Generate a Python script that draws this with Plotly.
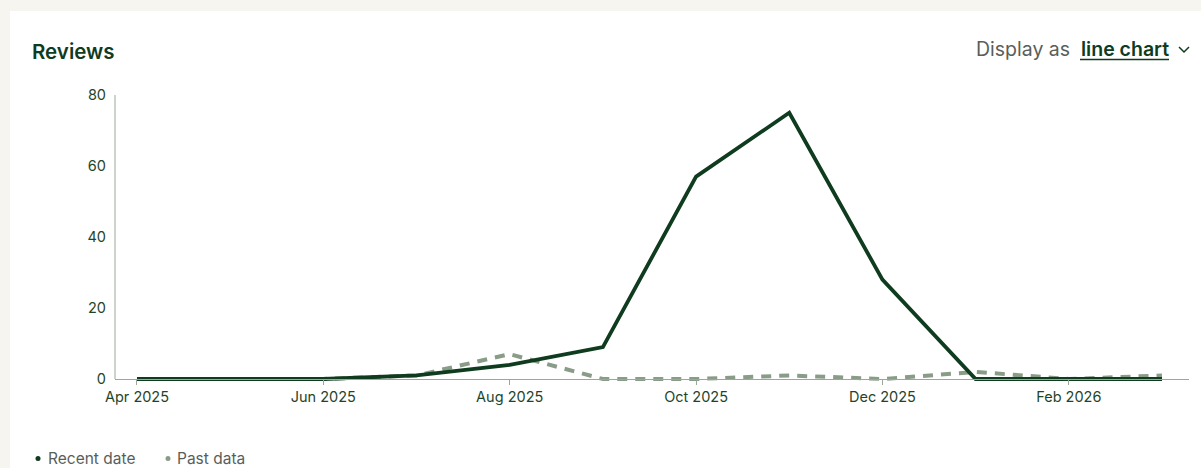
import plotly.graph_objects as go

months = ["Apr 2025", "May 2025", "Jun 2025", "Jul 2025", "Aug 2025", "Sep 2025",
          "Oct 2025", "Nov 2025", "Dec 2025", "Jan 2026", "Feb 2026", "Mar 2026"]
recent_values = [0, 0, 0, 1, 4, 9, 57, 75, 28, 0, 0, 0]
past_values = [0, 0, 0, 1, 7, 0, 0, 1, 0, 2, 0, 1]
tick_labels = ["Apr 2025", "Jun 2025", "Aug 2025", "Oct 2025", "Dec 2025", "Feb 2026"]
y_ticks = [0, 20, 40, 60, 80]

DARK = "#0f3b1f"
PAST = "#899c88"
AXIS = "#9aa89a"
LABEL = "#1f4529"
GREY = "#5a5e5a"
PAGE = "#f7f5f0"
FONT = "Inter"

W, H = 1201, 468
L, R, T, B = 115, 12, 95, 85
pw, ph = W - L - R, H - T - B


def px(x):
    return (x - L) / pw


def py(y):
    return (H - B - y) / ph


y_bottom = -(H - B - 379) / (284 / 80)
zero_pos = (0 - y_bottom) / (80 - y_bottom)

fig = go.Figure()
fig.add_trace(go.Scatter(x=months, y=past_values, mode="lines", name="Past data",
                         line=dict(color=PAST, width=4, dash="10px,8px"),
                         hoverinfo="x+y"))
fig.add_trace(go.Scatter(x=months, y=recent_values, mode="lines", name="Recent date",
                         line=dict(color=DARK, width=3.8), hoverinfo="x+y"))

shapes = [
    dict(type="rect", xref="paper", yref="paper", x0=px(10), x1=px(1230),
         y0=py(490), y1=py(11), fillcolor="white", line=dict(width=0), layer="below"),
    dict(type="line", xref="paper", yref="y", x0=0, x1=0, y0=0, y1=80,
         line=dict(color=AXIS, width=1)),
    dict(type="line", xref="paper", yref="paper", x0=px(1080), x1=px(1169),
         y0=py(59.5), y1=py(59.5), line=dict(color=DARK, width=1.6)),
    dict(type="path", xref="paper", yref="paper",
         path=f"M {px(1179)},{py(47)} L {px(1184)},{py(52)} L {px(1189)},{py(47)}",
         line=dict(color=DARK, width=1.5)),
    dict(type="circle", xref="paper", yref="paper", x0=px(35.5), x1=px(40.5),
         y0=py(461), y1=py(456), fillcolor=DARK, line=dict(width=0)),
    dict(type="circle", xref="paper", yref="paper", x0=px(165.5), x1=px(170.5),
         y0=py(461), y1=py(456), fillcolor=PAST, line=dict(width=0)),
]

annotations = [
    dict(text="Reviews", x=px(30), y=py(51), xref="paper", yref="paper",
         xanchor="left", yanchor="middle", showarrow=False,
         font=dict(family=FONT, size=20.5, color=DARK, weight=600)),
    dict(text="Display as", x=px(1072), y=py(49), xref="paper", yref="paper",
         xanchor="right", yanchor="middle", showarrow=False,
         font=dict(family=FONT, size=19.5, color=GREY)),
    dict(text="line chart", x=px(1079), y=py(49), xref="paper", yref="paper",
         xanchor="left", yanchor="middle", showarrow=False,
         font=dict(family=FONT, size=19.5, color=DARK, weight=600)),
    dict(text="Recent date", x=px(47), y=py(458), xref="paper", yref="paper",
         xanchor="left", yanchor="middle", showarrow=False, borderpad=0,
         font=dict(family=FONT, size=15.5, color=GREY)),
    dict(text="Past data", x=px(176), y=py(458), xref="paper", yref="paper",
         xanchor="left", yanchor="middle", showarrow=False, borderpad=0,
         font=dict(family=FONT, size=15.5, color=GREY)),
]

fig.update_layout(
    width=W, height=H,
    margin=dict(l=L, r=R, t=T, b=B, pad=0),
    paper_bgcolor=PAGE, plot_bgcolor="rgba(0,0,0,0)",
    showlegend=False,
    shapes=shapes, annotations=annotations,
    font=dict(family=FONT, color=LABEL, size=14.5),
    xaxis=dict(type="category", range=[-0.236, 11.29], tickmode="array",
               tickvals=tick_labels, ticktext=tick_labels,
               showgrid=False, zeroline=False, showline=True, linecolor=AXIS, linewidth=1,
               ticks="outside", ticklen=5, tickcolor=AXIS, tickwidth=1,
               anchor="free", position=zero_pos,
               tickfont=dict(family=FONT, size=14.5, color=LABEL)),
    yaxis=dict(range=[y_bottom, 80], tickmode="array", tickvals=y_ticks,
               showgrid=False, zeroline=False, showline=False, ticks="",
               ticklabelstandoff=8,
               tickfont=dict(family=FONT, size=14.5, color=LABEL)),
)

fig.write_html("out.html")
